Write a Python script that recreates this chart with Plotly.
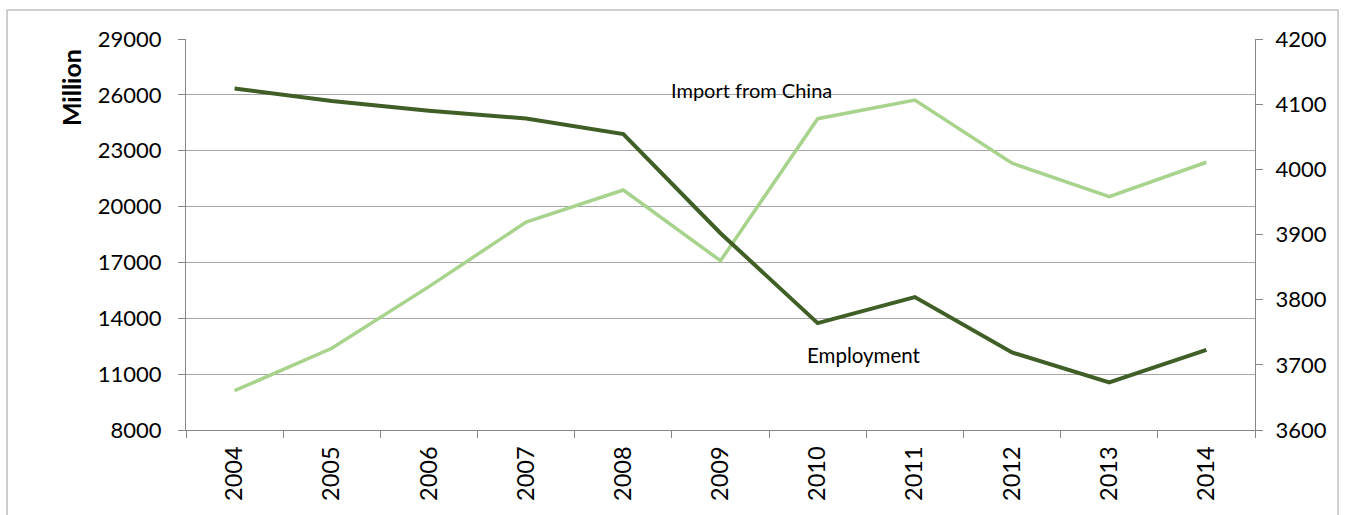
import plotly.graph_objects as go

years = ["2004", "2005", "2006", "2007", "2008", "2009", "2010", "2011", "2012", "2013", "2014"]
import_from_china = [10110, 12390, 15700, 19170, 20890, 17090, 24720, 25720, 22330, 20530, 22380]
employment = [4124, 4105, 4090, 4078, 4054, 3902, 3764, 3804, 3719, 3673, 3723]

left_ticks = [8000, 11000, 14000, 17000, 20000, 23000, 26000, 29000]
right_ticks = [3600, 3700, 3800, 3900, 4000, 4100, 4200]

DARK = "#3f5f26"
LIGHT = "#a7d38d"
GRID = "#a6a6a6"
AXIS = "#868686"
FONT = "Lato, Open Sans, sans-serif"

fig = go.Figure()
fig.add_trace(go.Scatter(x=years, y=import_from_china, mode="lines",
                         line=dict(color=LIGHT, width=3.5), name="Import from China",
                         yaxis="y"))
fig.add_trace(go.Scatter(x=years, y=employment, mode="lines",
                         line=dict(color=DARK, width=4), name="Employment",
                         yaxis="y2"))

fig.update_layout(
    width=1352, height=515,
    margin=dict(l=186, r=97, t=39, b=85),
    paper_bgcolor="white", plot_bgcolor="white",
    showlegend=False,
    font=dict(family=FONT, color="#000000"),
    xaxis=dict(
        type="category", tickson="boundaries", showgrid=False,
        ticks="outside", ticklen=7, tickcolor=AXIS,
        showline=True, linecolor=AXIS, linewidth=1,
        tickangle=-90, tickfont=dict(size=23.5, family=FONT),
        ticklabelstandoff=6,
        range=[-0.5, len(years) - 0.5],
    ),
    yaxis=dict(
        range=[left_ticks[0], left_ticks[-1]], tickvals=left_ticks,
        ticktext=[str(v) for v in left_ticks],
        showgrid=True, gridcolor=GRID, gridwidth=1,
        ticks="outside", ticklen=7, tickcolor=AXIS,
        showline=True, linecolor=AXIS, linewidth=1, zeroline=False,
        tickfont=dict(size=22, family=FONT), ticklabelstandoff=12,
    ),
    yaxis2=dict(
        range=[right_ticks[0], right_ticks[-1]], tickvals=right_ticks,
        overlaying="y", side="right", showgrid=False,
        ticks="outside", ticklen=7, tickcolor=AXIS,
        showline=True, linecolor=AXIS, linewidth=1, zeroline=False,
        tickfont=dict(size=22, family=FONT), ticklabelstandoff=8,
    ),
    annotations=[
        dict(text="<b>Million</b>", x=-0.107, y=0.876, xref="paper", yref="paper",
             xanchor="center", yanchor="middle",
             textangle=-90, showarrow=False, font=dict(size=25, family=FONT)),
        dict(text="Import from China", x=5.32, y=26260, xref="x", yref="y",
             showarrow=False, font=dict(size=20, family=FONT)),
        dict(text="Employment", x=6.48, y=12030, xref="x", yref="y",
             showarrow=False, font=dict(size=20.5, family=FONT)),
    ],
    shapes=[
        dict(type="rect", xref="paper", yref="paper",
             x0=-0.1674, x1=1.0777, y0=-0.3, y1=1.074,
             line=dict(color="#c0c0c0", width=1.5), layer="below"),
    ],
)

fig.write_html("out.html")
